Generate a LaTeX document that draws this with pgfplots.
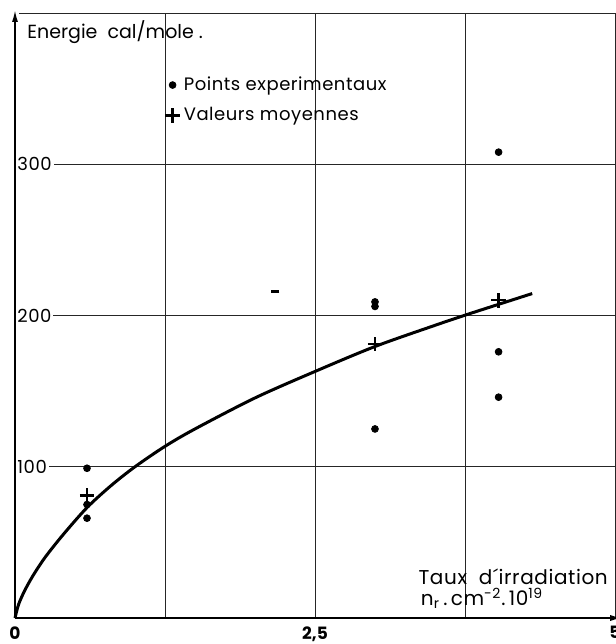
\documentclass[border=0pt]{standalone}
\usepackage{fontspec}
\setmainfont{Poppins}
\newfontfamily\spaced[LetterSpace=3]{Poppins}
\newfontfamily\spacedb[LetterSpace=3]{Poppins}
\usepackage{pgfplots}
\pgfplotsset{compat=1.18}
\usetikzlibrary{arrows.meta}

\begin{document}
\begin{tikzpicture}
\begin{axis}[
  at={(0,0)}, anchor=south west,
  scale only axis, width=300pt, height=302.5pt,
  xmin=0, xmax=5, ymin=0, ymax=400,
  axis line style={draw=none},
  xtick={0,1.25,2.5,3.75,5}, xticklabels={0,,{2,5},,5},
  ytick={100,200,300,400}, yticklabels={100,200,300,},
  major tick length=0pt,
  grid=major, grid style={black!85, line width=0.45pt},
  xticklabel style={font=\bfseries\fontsize{8.5}{9}\selectfont, anchor=north, inner sep=0pt, yshift=-4pt},
  yticklabel style={anchor=west, fill=white, inner sep=1pt, font=\spacedb\fontsize{9}{10}\selectfont},
  clip=false,
  legend style={at={(0.25,0.902)}, anchor=north west, draw=none, fill=none,
    font=\spaced\fontsize{9}{10}\selectfont, row sep=3pt, inner sep=0pt},
  legend cell align=left,
  legend image code/.code={\draw[#1] plot coordinates {(0.1cm,0cm)};},
]
% experimental points
\addplot[only marks, mark=*, mark size=1.7pt, black] coordinates {
  (0.6,99) (0.6,75) (0.6,66)
  (3.0,209) (3.0,206) (3.0,125)
  (4.03,308) (4.03,176) (4.03,146)
};
\addlegendentry{Points experimentaux}
% mean values
\addplot[only marks, mark=+, mark size=3.6pt, black, mark options={line width=1.1pt}] coordinates {
  (0.6,81) (3.0,181) (4.03,210)
};
\addlegendentry{Valeurs moyennes}
% fitted curve
\addplot[black, line width=1.5pt, smooth, forget plot] coordinates {
  (0,0) (0.03,9) (0.08,18) (0.15,28) (0.25,40) (0.4,55) (0.6,73)
  (0.8,87.5) (1.0,100) (1.25,113.5) (1.5,125) (2.0,145.5) (2.5,163)
  (3.0,179.5) (3.5,193.5) (3.8,201.5) (4.31,214.5)
};
% stray speck
\addplot[only marks, mark=-, mark size=2pt, black, mark options={line width=1.2pt}, forget plot] coordinates {(2.17,216)};
% axes
\draw[line width=0.8pt, -{Latex[length=6pt,width=3pt]}] (axis cs:0,0) -- (axis cs:0,402);
\draw[line width=0.7pt, -{Latex[length=6pt,width=3pt]}] (axis cs:0,0) -- (axis cs:5.06,0);
% labels
\node[anchor=base west, inner sep=0pt, font=\fontsize{9.5}{11}\selectfont] at (axis cs:0.1,383) {Energie\ \ cal/mole\ .};
\node[anchor=base west, inner sep=0pt, font=\spacedb\fontsize{10}{11}\selectfont] at (axis cs:3.36,22) {Taux\ \ d´irradiation};
\node[anchor=base west, inner sep=0pt, font=\spacedb\fontsize{10}{11}\selectfont] at (axis cs:3.38,8) {n\textsubscript{r}\,.\,cm\textsuperscript{-2}.\,10\textsuperscript{19}};
\end{axis}
\pgfresetboundingbox
\path (-7.5pt,-13pt) rectangle (300.5pt,309pt);
\end{tikzpicture}
\end{document}
